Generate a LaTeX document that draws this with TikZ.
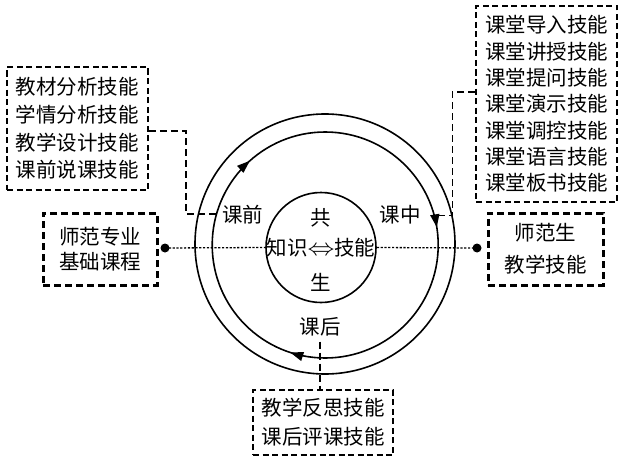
\documentclass[tikz,border=0pt]{standalone}
\usepackage{fontspec}
\setmainfont{Noto Sans CJK SC}
\usetikzlibrary{arrows.meta,decorations.markings,calc}
\begin{document}
\begin{tikzpicture}[x=1pt,y=1pt,
  every node/.style={inner sep=0pt},
  txt/.style={font=\fontsize{20.5}{24}\selectfont},
  thinbox/.style={draw, line width=1.6pt, dash pattern=on 6pt off 3.5pt, align=center},
  thickbox/.style={draw, line width=3pt, dash pattern=on 7pt off 4pt, align=center},
  conn/.style={line width=1.4pt, dash pattern=on 7pt off 4pt},
  dotline/.style={line width=1.3pt, dash pattern=on 2.2pt off 1.6pt},
  ring/.style={line width=1.6pt},
  endpt/.style={circle, fill, minimum size=9pt},
  cyc/.style={circle, minimum size=#1}
]
\useasboundingbox (0,0) rectangle (618,459);

% circles
\node[cyc=260pt, draw, ring] (outer) at (325,215) {};
\node[cyc=226pt] (mid) at (325,214) {};
\node[cyc=110pt, draw, ring] (inner) at (321,211.5) {};
\draw[ring, postaction={decorate}, decoration={markings,
   mark=at position 0.300 with {\arrow{Triangle[length=13pt,width=9pt]}},
   mark=at position 0.634 with {\arrow{Triangle[length=13pt,width=9pt]}},
   mark=at position 0.975 with {\arrow{Triangle[length=13pt,width=9pt]}}}]
  (mid.east) arc[start angle=360, end angle=0, radius=113];

% labels in circles
\node[txt] (qian) at (242.5,244) {课前};
\node[txt] (zhong) at (400,244) {课中};
\node[txt] (hou) at (320,132) {课后};
\node[txt] (gong) at (321,241) {共};
\node[txt] (zs) at (321,211) {知识\scalebox{1.3}[1.15]{$\Leftrightarrow$}技能};
\node[txt] (sheng) at (321,177) {生};

% boxes
\node[thinbox, minimum width=141pt, minimum height=123pt,
      font=\fontsize{20.5}{27.7}\selectfont] (ltbox) at (77.5,330.5)
  {教材分析技能\\学情分析技能\\教学设计技能\\课前说课技能};
\node[thinbox, minimum width=141pt, minimum height=196pt,
      font=\fontsize{20.5}{26.3}\selectfont] (rtbox) at (546.5,355)
  {课堂导入技能\\课堂讲授技能\\课堂提问技能\\课堂演示技能\\课堂调控技能\\课堂语言技能\\课堂板书技能};
\node[thickbox, minimum width=114pt, minimum height=72pt,
      font=\fontsize{20.5}{25}\selectfont] (lbbox) at (100,210)
  {师范专业\\基础课程};
\node[thickbox, minimum width=115pt, minimum height=72pt,
      font=\fontsize{20.5}{32}\selectfont] (rbbox) at (545.5,210)
  {师范生\\教学技能};
\node[thinbox, minimum width=140pt, minimum height=65pt,
      font=\fontsize{20.5}{29}\selectfont] (bbox) at (323,36.5)
  {教学反思技能\\课后评课技能};

% dots and dotted lines
\node[endpt] (ldot) at (165,211) {};
\node[endpt] (rdot) at (477,211) {};
\draw[dotline] (ldot.center) -- (inner.west);
\draw[dotline] (inner.east) -- (rdot.center);

% dashed connectors
\draw[conn] ([yshift=-2.5pt]ltbox.east) -- ++(37,0) |- (mid.164.6);
\draw[conn] ([yshift=12pt]rtbox.west) -- ++(-23,0) |- (mid.15.4);
\draw[conn] ([yshift=-5pt]hou.south) -- (hou.south |- bbox.north);
\end{tikzpicture}
\end{document}
